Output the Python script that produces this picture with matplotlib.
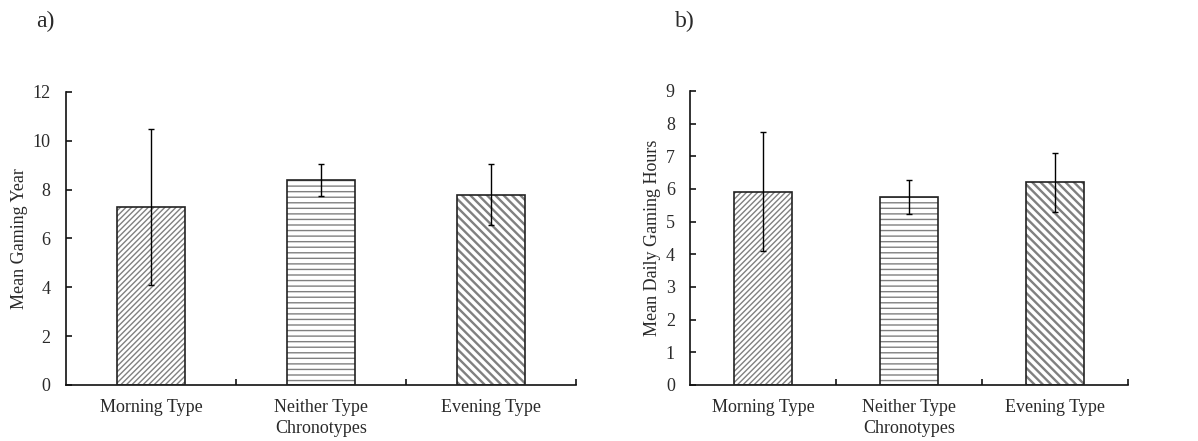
import matplotlib.pyplot as plt
import numpy as np

plt.rcParams['font.family'] = ['Liberation Serif', 'DejaVu Serif']

categories = ["Morning Type", "Neither Type", "Evening Type"]
hatches = ['//////', '---', '\\\\\\\\']

years_mean = [7.3, 8.4, 7.8]
years_err = [3.2, 0.65, 1.25]

hours_mean = [5.92, 5.75, 6.2]
hours_err = [1.82, 0.52, 0.9]

text_col = '#2a2a2a'


def draw_panel(ax, means, errs, ymax, ylabel):
    x = np.arange(len(categories))
    for i in range(len(categories)):
        p = ax.bar(x[i], means[i], width=0.4, color='white', edgecolor='#808080',
                   hatch=hatches[i], linewidth=0, zorder=2)[0]
        if hasattr(p, 'set_hatch_linewidth'):
            p.set_hatch_linewidth(1.7 if i == 2 else 1.0)
        ax.bar(x[i], means[i], width=0.4, fill=False, edgecolor='#222222',
               linewidth=1.2, zorder=3)
    ax.errorbar(x, means, yerr=errs, fmt='none', ecolor='black',
                elinewidth=1.0, capsize=2.5, capthick=1.0, zorder=4)
    ax.set_xlim(-0.5, 2.5)
    ax.set_ylim(0, ymax)
    ax.set_yticks(range(0, ymax + 1, 2 if ymax == 12 else 1))
    ax.set_xticks(x)
    ax.set_xticklabels(categories)
    ax.set_xticks([0.5, 1.5, 2.5], minor=True)
    ax.tick_params(axis='x', which='major', length=0, pad=10, labelsize=13,
                   labelcolor=text_col)
    ax.tick_params(axis='x', which='minor', direction='in', length=4, width=1.1)
    ax.tick_params(axis='y', direction='in', length=4, width=1.1, pad=11,
                   labelsize=13, labelcolor=text_col)
    for s in ['top', 'right']:
        ax.spines[s].set_visible(False)
    for s in ['left', 'bottom']:
        ax.spines[s].set_linewidth(1.2)
        ax.spines[s].set_color('#111111')
    ax.set_ylabel(ylabel, fontsize=13, color=text_col, labelpad=3)
    ax.set_xlabel("Chronotypes", fontsize=13, color=text_col, labelpad=3)


fig = plt.figure(figsize=(11.98, 4.41), dpi=100)
ax1 = fig.add_axes([0.0551, 0.127, 0.4257, 0.6644])
ax2 = fig.add_axes([0.576, 0.127, 0.3656, 0.6667])

draw_panel(ax1, years_mean, years_err, 12, "Mean Gaming Year")
draw_panel(ax2, hours_mean, hours_err, 9, "Mean Daily Gaming Hours")

fig.text(0.0376, 0.952, "a)", fontsize=17, color=text_col, ha='center', va='center')
fig.text(0.5718, 0.952, "b)", fontsize=17, color=text_col, ha='center', va='center')

fig.savefig("out.png", dpi=100)
